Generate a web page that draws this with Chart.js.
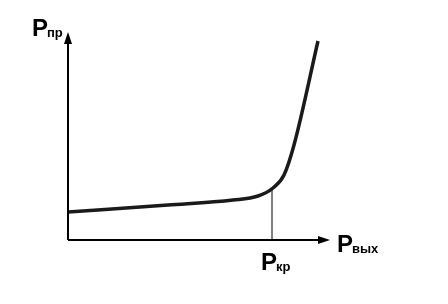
<!DOCTYPE html>
<html><head><meta charset="utf-8">
<script src="https://cdn.jsdelivr.net/npm/chart.js@4"></script>
<style>html,body{margin:0;padding:0;background:#fff}#wrap{width:448px;height:304px}</style>
</head><body><div id="wrap"><canvas id="c"></canvas></div>
<script>
const curveX = [0, 100, 165, 190, 205, 216, 226, 250];
const curveY = [28, 35, 40, 44, 52, 65, 95, 199];
const critX = 204;
const critY = 51;
const yLabel = ["P", "пр"];
const xLabel = ["P", "вых"];
const critLabel = ["P", "кр"];

const axesPlugin = {
  id: 'axesPlugin',
  afterDraw(chart) {
    const ctx = chart.ctx, a = chart.chartArea;
    const xs = chart.scales.x, ys = chart.scales.y;
    ctx.save();
    ctx.strokeStyle = '#000'; ctx.fillStyle = '#000'; ctx.lineWidth = 2;
    const ox = xs.getPixelForValue(0), oy = ys.getPixelForValue(0);
    ctx.beginPath(); ctx.moveTo(ox, oy); ctx.lineTo(a.right - 8, oy); ctx.stroke();
    ctx.beginPath(); ctx.moveTo(ox, oy); ctx.lineTo(ox, a.top + 8); ctx.stroke();
    ctx.beginPath(); ctx.moveTo(a.right, oy); ctx.lineTo(a.right - 12, oy - 4); ctx.lineTo(a.right - 12, oy + 4); ctx.closePath(); ctx.fill();
    ctx.beginPath(); ctx.moveTo(ox, a.top); ctx.lineTo(ox - 4, a.top + 12); ctx.lineTo(ox + 4, a.top + 12); ctx.closePath(); ctx.fill();
    const lab = (parts, x, y) => {
      ctx.font = 'bold 24px "Liberation Sans", Arial, sans-serif';
      ctx.textBaseline = 'alphabetic';
      ctx.fillText(parts[0], x, y);
      const w = ctx.measureText(parts[0]).width;
      ctx.font = 'bold 13px "Liberation Sans", Arial, sans-serif';
      ctx.fillText(parts[1], x + w - 1, y + 1);
    };
    lab(yLabel, 32, 36);
    lab(xLabel, 337, 252);
    const cx = xs.getPixelForValue(critX);
    lab(critLabel, cx - 11, 270);
    ctx.restore();
  }
};

new Chart(document.getElementById('c'), {
  type: 'line',
  data: {
    datasets: [
      { data: curveX.map((x, i) => ({x, y: curveY[i]})), borderColor: '#1a1a1a', borderWidth: 3.5,
        pointRadius: 0, cubicInterpolationMode: 'monotone', fill: false },
      { data: [{x: critX, y: 0}, {x: critX, y: critY}], borderColor: '#000', borderWidth: 1,
        pointRadius: 0, fill: false }
    ]
  },
  options: {
    responsive: true, maintainAspectRatio: false, animation: false,
    layout: { padding: { left: 68, right: 118, top: 32, bottom: 64 } },
    plugins: { legend: { display: false }, tooltip: { enabled: false } },
    scales: {
      x: { type: 'linear', min: 0, max: 262, display: false },
      y: { type: 'linear', min: 0, max: 208, display: false }
    }
  },
  plugins: [axesPlugin]
});
</script></body></html>
